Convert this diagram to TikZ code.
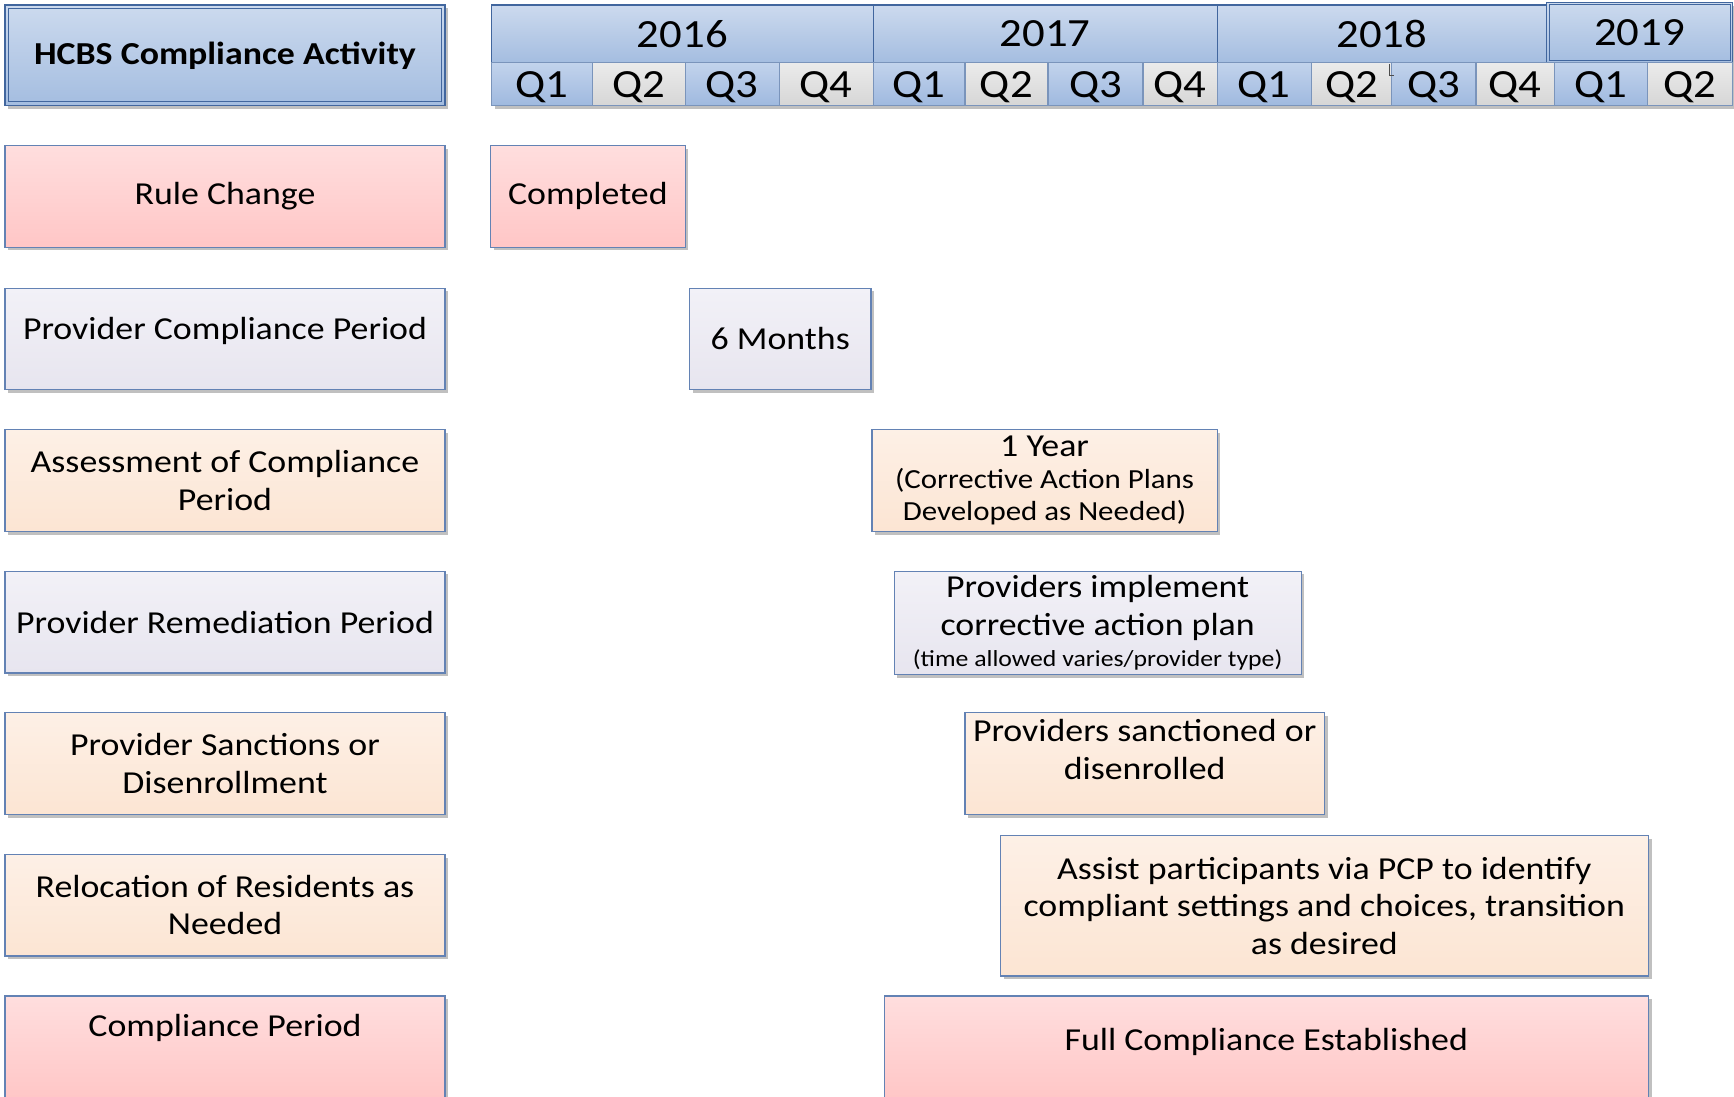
\documentclass[tikz,border=0pt]{standalone}
\usepackage{fontspec}
\setmainfont{Carlito}[FakeStretch=1.12]
\usetikzlibrary{shadows}
\definecolor{hdrtop}{HTML}{CCDAEE}
\definecolor{hdrbot}{HTML}{A4BDE0}
\definecolor{hdrline}{HTML}{41669E}
\definecolor{qbtop}{HTML}{C2D3EC}
\definecolor{qbbot}{HTML}{9FB9DF}
\definecolor{qgtop}{HTML}{EBEBEB}
\definecolor{qgbot}{HTML}{D6D6D6}
\definecolor{boxline}{HTML}{6382B4}
\definecolor{pinktop}{HTML}{FFDEDE}
\definecolor{pinkbot}{HTML}{FFC6C6}
\definecolor{lavtop}{HTML}{F2F1F7}
\definecolor{lavbot}{HTML}{E7E5EF}
\definecolor{peachtop}{HTML}{FDF0E6}
\definecolor{peachbot}{HTML}{FCE5D3}
\newcommand\hdrtxt{\fontsize{16}{19}\selectfont\bfseries}
\newcommand\yrtxt{\fontsize{20}{24}\selectfont}
\newcommand\bigtxt{\fontsize{16}{18.8}\selectfont}
\newcommand\midtxt{\fontsize{13.8}{16}\selectfont}
\newcommand\tinytxt{\fontsize{11.5}{13}\selectfont}

\begin{document}
\begin{tikzpicture}[x=0.5pt, y=-0.5pt,
    bar/.style={draw=boxline, line width=0.6pt, anchor=north west, align=center, inner sep=2pt,
        drop shadow={shadow xshift=1.6pt, shadow yshift=-1.6pt, opacity=0.45, fill=black!55}},
    hdrbox/.style={bar, draw=hdrline, top color=hdrtop, bottom color=hdrbot},
    qcell/.style={bar, draw=hdrline!70, minimum height=21.5pt, font=\yrtxt},
    pinkbox/.style={bar, top color=pinktop, bottom color=pinkbot, font=\bigtxt},
    lavbox/.style={bar, top color=lavtop, bottom color=lavbot, font=\bigtxt},
    peachbox/.style={bar, top color=peachtop, bottom color=peachbot, font=\bigtxt},
    leftcol/.style={minimum width=220pt, minimum height=50.85pt}]
    \useasboundingbox (0,0) rectangle (1734,1097);

    % Header
    \node[hdrbox, minimum width=220pt, minimum height=50.3pt, font=\hdrtxt] (hcbs) at (4.4,4.4) {HCBS Compliance Activity};
    \draw[hdrline, line width=0.6pt] ([shift={(2.2pt,-2.2pt)}]hcbs.north west) rectangle ([shift={(-2.2pt,2.2pt)}]hcbs.south east);

    \foreach \a/\b/\yr in {491/872.6/2016, 872.6/1216.5/2017, 1216.5/1546/2018}
        \node[hdrbox, minimum width={(\b-\a)*0.5pt}, minimum height=28.8pt, font=\yrtxt] (y\yr) at (\a,4.4) {\yr};
    \node[hdrbox, minimum width=93pt, minimum height=30pt, font=\yrtxt] (y2019) at (1546,2) {2019};
    \draw[hdrline, line width=0.5pt] ([shift={(1.5pt,-1.5pt)}]y2019.north west) rectangle ([shift={(-1.5pt,1.5pt)}]y2019.south east);

    \foreach \a/\b/\q/\c [count=\i] in {491/591.6/Q1/qb, 591.6/684.5/Q2/qg, 684.5/778.5/Q3/qb, 778.5/872.6/Q4/qg,
            872.6/964.3/Q1/qb, 964.3/1047.3/Q2/qg, 1047.3/1142.4/Q3/qb, 1142.4/1216.5/Q4/qg,
            1216.5/1310.5/Q1/qb, 1310.5/1391.2/Q2/qg, 1391.2/1475.3/Q3/qb, 1475.3/1553.8/Q4/qg,
            1553.8/1646.7/Q1/qb, 1646.7/1731.8/Q2/qg}
        \node[qcell, top color=\c top, bottom color=\c bot, minimum width={(\b-\a)*0.5pt}] (q\i) at (\a,62)
            {\raisebox{-1.7pt}[\height][\depth]{\q}};
    \draw[black!70, line width=0.5pt] ([shift={(-1pt,-1pt)}]q11.north west) |- ++(2.5pt,-6pt);

    % Activities
    \node[pinkbox, leftcol] (rule) at (4.4,144.9) {Rule Change};
    \node[lavbox, leftcol] (provcomp) at (4.4,287.5) {\raisebox{4pt}[\height][\depth]{Provider Compliance Period}};
    \node[peachbox, leftcol] (assess) at (4.4,429.1) {Assessment of Compliance\\Period};
    \node[lavbox, leftcol] (remed) at (4.4,570.6) {Provider Remediation Period};
    \node[peachbox, leftcol] (sanct) at (4.4,712.2) {Provider Sanctions or\\Disenrollment};
    \node[peachbox, leftcol] (reloc) at (4.4,853.7) {Relocation of Residents as\\Needed};
    \node[pinkbox, minimum width=220pt, minimum height=52.5pt] (compl) at (4.4,995.3) {\raisebox{10pt}[\height][\depth]{Compliance Period}};

    % Timeline
    \node[pinkbox, minimum width=97.25pt, minimum height=50.85pt] (done) at (490,144.9) {Completed};
    \node[lavbox, minimum width=90.65pt, minimum height=50.85pt] (sixmo) at (689,287.5) {6 Months};
    \node[peachbox, minimum width=172.55pt, minimum height=50.85pt, font=\midtxt] (oneyr) at (871.4,429.1)
        {{\bigtxt 1 Year}\\(Corrective Action Plans\\Developed as Needed)};
    \node[lavbox, minimum width=203.45pt, minimum height=50.85pt] (implement) at (893.6,570.6)
        {Providers implement\\corrective action plan\\[-3pt]{\tinytxt (time allowed varies/provider type)}};
    \node[peachbox, minimum width=179.75pt, minimum height=50.85pt, text depth=14pt] (sanctioned) at (964.3,712.2)
        {Providers sanctioned or\\disenrolled};
    \node[peachbox, minimum width=324pt, minimum height=70.2pt] (assist) at (999.7,835)
        {Assist participants via PCP to identify\\compliant settings and choices, transition\\as desired};
    \node[pinkbox, minimum width=382.1pt, minimum height=52.5pt] (fullcomp) at (883.6,995.3)
        {\raisebox{3.3pt}[\height][\depth]{Full Compliance Established}};
\end{tikzpicture}
\end{document}
